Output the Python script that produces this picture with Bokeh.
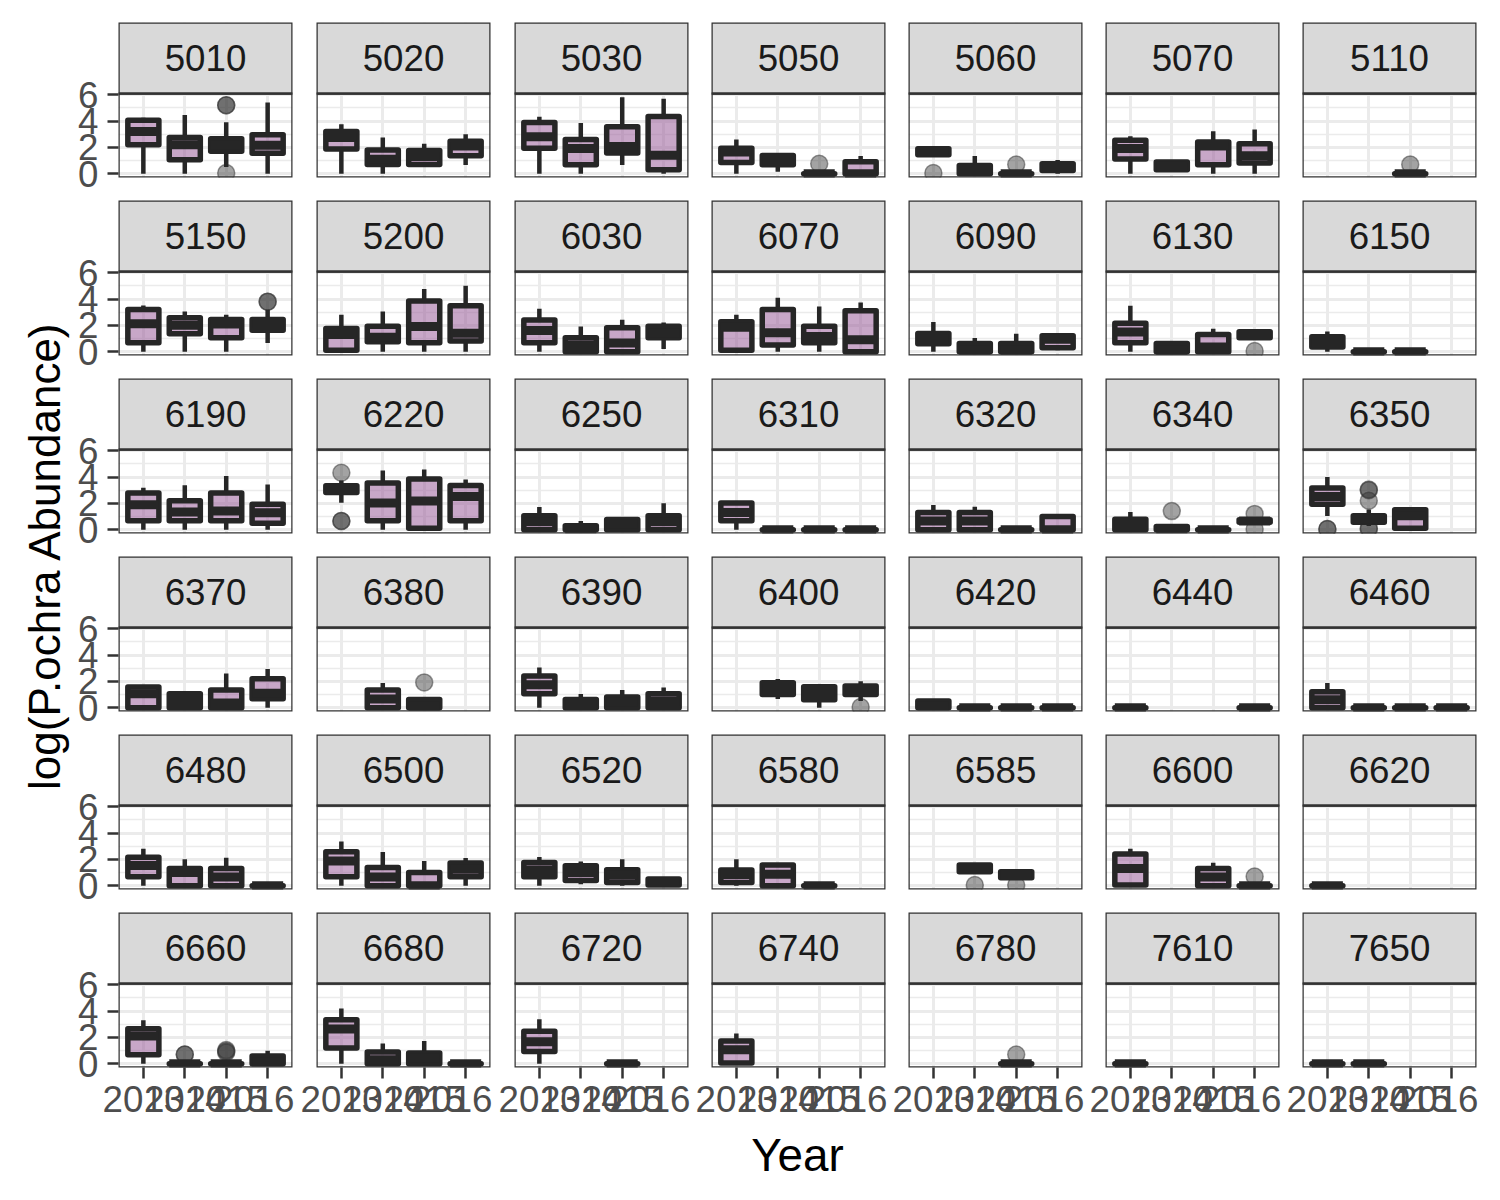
from math import pi
from bokeh.plotting import figure
from bokeh.models import (FactorRange, Range1d, FixedTicker, CategoricalTicker,
                          BoxAnnotation, Label, ColumnDataSource)
from bokeh.layouts import row, column
from bokeh.embed import file_html
from bokeh.resources import INLINE

N = None
years = ["2013", "2014", "2015", "2016"]
sites = ["5010", "5020", "5030", "5050", "5060", "5070", "5110",
         "5150", "5200", "6030", "6070", "6090", "6130", "6150",
         "6190", "6220", "6250", "6310", "6320", "6340", "6350",
         "6370", "6380", "6390", "6400", "6420", "6440", "6460",
         "6480", "6500", "6520", "6580", "6585", "6600", "6620",
         "6660", "6680", "6720", "6740", "6780", "7610", "7650"]

# box statistics per site, for 2013..2016 (None = no data that year)
lower_whisker = {
    "5010": [0, 0, 0.5, 0], "5020": [0, 0, 0.6, 0.65], "5030": [0, 0, 0.66, 0],
    "5050": [0, 0.15, 0, 0], "5060": [1.44, 0, 0, 0], "5070": [0, 0.15, 0, 0],
    "5110": [N, N, 0, N], "5150": [0, 0, 0, 0.66], "5200": [0, 0, 0, 0],
    "6030": [0, 0, 0, 0.2], "6070": [0, 0, 0, 0], "6090": [0, 0, 0, 0.1],
    "6130": [0, 0, 0, 1.0], "6150": [0, 0, 0, N], "6190": [0, 0, 0, 0],
    "6220": [2.05, 0, 0, 0], "6250": [0, 0, 0, 0], "6310": [0, 0, 0, 0],
    "6320": [0, 0, 0, 0], "6340": [0, 0, 0, 0.45], "6350": [1.04, 0.28, 0, N],
    "6370": [0, 0, 0, 0], "6380": [N, 0, 0, N], "6390": [0, 0, 0, 0],
    "6400": [N, 0.66, 0, 0.5], "6420": [0, 0, 0, 0], "6440": [0, N, N, 0],
    "6460": [0, 0, 0, 0], "6480": [0, 0, 0, 0], "6500": [0, 0, 0, 0],
    "6520": [0, 0.1, 0, 0.05], "6580": [0, 0, 0, N], "6585": [N, 1.06, 0.6, N],
    "6600": [0, N, 0, 0], "6620": [0, N, N, N], "6660": [0, 0, 0, 0],
    "6680": [0, 0, 0, 0], "6720": [0, N, 0, N], "6740": [0, N, N, N],
    "6780": [N, N, 0, N], "7610": [0, N, N, N], "7650": [0, 0, N, N],
}
q1 = {
    "5010": [2.2, 1.05, 1.7, 1.55], "5020": [1.87, 0.7, 0.7, 1.36], "5030": [1.94, 0.68, 1.57, 0.3],
    "5050": [0.85, 0.68, 0, 0], "5060": [1.44, 0, 0, 0.25], "5070": [1.11, 0.3, 0.68, 0.81],
    "5110": [N, N, 0, N], "5150": [0.68, 1.36, 1.06, 1.62], "5200": [0.1, 0.76, 0.68, 0.81],
    "6030": [0.68, 0, 0, 1.06], "6070": [0.1, 0.5, 0.68, 0], "6090": [0.6, 0, 0, 0.3],
    "6130": [0.68, 0, 0, 1.06], "6150": [0.35, 0, 0, N], "6190": [0.68, 0.68, 0.68, 0.48],
    "6220": [2.83, 0.68, 0.1, 0.68], "6250": [0, 0, 0, 0], "6310": [0.68, 0, 0, 0],
    "6320": [0, 0, 0, 0], "6340": [0, 0, 0, 0.56], "6350": [1.94, 0.56, 0.1, N],
    "6370": [0, 0, 0, 0.68], "6380": [N, 0, 0, N], "6390": [1.06, 0, 0, 0],
    "6400": [N, 1.01, 0.6, 1.01], "6420": [0, 0, 0, 0], "6440": [0, N, N, 0],
    "6460": [0, 0, 0, 0], "6480": [0.68, 0, 0, 0], "6500": [0.68, 0, 0, 0.68],
    "6520": [0.68, 0.4, 0.25, 0.05], "6580": [0.25, 0, 0, N], "6585": [N, 1.06, 0.6, N],
    "6600": [0.05, N, 0, 0], "6620": [0, N, N, N], "6660": [0.68, 0, 0, 0],
    "6680": [1.19, 0, 0, 0], "6720": [0.93, N, 0, N], "6740": [0.05, N, N, N],
    "6780": [N, N, 0, N], "7610": [0, N, N, N], "7650": [0, 0, N, N],
}
median = {
    "5010": [3.2, 2.2, 2.2, 2.15], "5020": [2.75, 1.1, 1.3, 2.1], "5030": [2.8, 1.92, 2.07, 1.4],
    "5050": [1.65, 1.0, 0, 0], "5060": [1.65, 0.25, 0, 0.5], "5070": [1.92, 0.6, 2.1, 1.36],
    "5110": [N, N, 0, N], "5150": [2.12, 2.0, 2.1, 2.1], "5200": [1.3, 1.1, 1.92, 1.4],
    "6030": [1.6, 0.5, 0.66, 1.4], "6070": [1.85, 1.44, 1.15, 0.9], "6090": [1.0, 0.1, 0.1, 0.95],
    "6130": [1.49, 0.1, 0.35, 1.3], "6150": [0.7, 0, 0, N], "6190": [1.9, 1.34, 1.41, 1.29],
    "6220": [3.05, 2.02, 2.17, 2.52], "6250": [0.6, 0.05, 0.45, 0.6], "6310": [1.3, 0, 0, 0],
    "6320": [0.66, 0.66, 0, 0], "6340": [0.5, 0.05, 0, 0.66], "6350": [2.52, 0.8, 1.06, N],
    "6370": [1.06, 0.55, 0.35, 1.1], "6380": [N, 0.66, 0.1, N], "6390": [1.75, 0.2, 0.45, 0.5],
    "6400": [N, 1.45, 1.15, 1.35], "6420": [0.15, 0, 0, 0], "6440": [0, N, N, 0],
    "6460": [0.6, 0, 0, 0], "6480": [1.54, 1.0, 0.66, 0], "6500": [1.87, 0.66, 0, 1.25],
    "6520": [1.2, 1.0, 0.8, 0.3], "6580": [0.85, 0.86, 0, N], "6585": [N, 1.3, 0.85, N],
    "6600": [1.31, N, 0.66, 0], "6620": [0, N, N, N], "6660": [2.1, 0, 0, 0.15],
    "6680": [2.63, 0.3, 0.45, 0], "6720": [1.67, N, 0, N], "6740": [1.06, N, N, N],
    "6780": [N, N, 0, N], "7610": [0, N, N, N], "7650": [0, 0, N, N],
}
q3 = {
    "5010": [4.05, 2.75, 2.65, 2.95], "5020": [3.2, 1.8, 1.77, 2.47], "5030": [3.89, 2.6, 3.56, 4.35],
    "5050": [1.94, 1.39, 0, 0.9], "5060": [1.89, 0.63, 0, 0.76], "5070": [2.53, 0.88, 2.4, 2.27],
    "5110": [N, N, 0, N], "5150": [3.2, 2.58, 2.45, 2.45], "5200": [1.77, 1.94, 3.84, 3.48],
    "6030": [2.4, 1.06, 1.82, 1.94], "6070": [2.27, 3.2, 1.94, 3.1], "6090": [1.39, 0.63, 0.63, 1.21],
    "6130": [2.15, 0.63, 1.31, 1.52], "6150": [1.14, 0, 0, N], "6190": [2.78, 2.2, 2.78, 1.94],
    "6220": [3.33, 3.54, 3.84, 3.36], "6250": [1.06, 0.3, 0.78, 1.06], "6310": [2.02, 0, 0, 0],
    "6320": [1.31, 1.31, 0, 1.01], "6340": [0.8, 0.25, 0, 0.76], "6350": [3.16, 1.06, 1.52, N],
    "6370": [1.57, 1.06, 1.34, 2.2], "6380": [N, 1.34, 0.63, N], "6390": [2.4, 0.63, 0.81, 1.06],
    "6400": [N, 1.89, 1.59, 1.64], "6420": [0.5, 0, 0, 0], "6440": [0, N, N, 0],
    "6460": [1.21, 0, 0, 0], "6480": [2.15, 1.31, 1.31, 0], "6500": [2.58, 1.39, 1.01, 1.72],
    "6520": [1.77, 1.52, 1.21, 0.5], "6580": [1.19, 1.57, 0, N], "6585": [N, 1.57, 1.06, N],
    "6600": [2.4, N, 1.31, 0], "6620": [0, N, N, N], "6660": [2.65, 0, 0, 0.58],
    "6680": [3.33, 0.88, 0.81, 0], "6720": [2.47, N, 0, N], "6740": [1.72, N, N, N],
    "6780": [N, N, 0, N], "7610": [0, N, N, N], "7650": [0, 0, N, N],
}
upper_whisker = {
    "5010": [4.25, 4.45, 3.9, 5.4], "5020": [3.75, 2.75, 2.27, 3.0], "5030": [4.32, 3.84, 5.8, 5.7],
    "5050": [2.6, 1.39, 0, 1.35], "5060": [1.89, 1.34, 0, 1.03], "5070": [2.85, 0.88, 3.23, 3.36],
    "5110": [N, N, 0, N], "5150": [3.5, 3.05, 2.8, 3.18], "5200": [2.8, 3.05, 4.77, 5.0],
    "6030": [3.26, 1.92, 2.42, 2.22], "6070": [2.8, 4.1, 3.43, 3.74], "6090": [2.25, 1.03, 1.36, 1.21],
    "6130": [3.48, 0.63, 1.74, 1.52], "6150": [1.54, 0, 0, N], "6190": [3.18, 3.38, 4.07, 3.43],
    "6220": [3.74, 4.5, 4.57, 3.81], "6250": [1.72, 0.66, 0.85, 2.0], "6310": [2.02, 0, 0, 0],
    "6320": [1.87, 1.74, 0, 1.01], "6340": [1.34, 0.25, 0, 0.9], "6350": [4.0, 1.54, 1.6, N],
    "6370": [1.57, 1.06, 2.6, 2.93], "6380": [N, 1.87, 0.63, N], "6390": [3.05, 1.03, 1.34, 1.54],
    "6400": [N, 2.17, 1.59, 2.0], "6420": [0.5, 0, 0, 0], "6440": [0, N, N, 0],
    "6460": [1.87, 0, 0, 0], "6480": [2.8, 2.0, 2.12, 0], "6500": [3.36, 2.55, 1.87, 2.1],
    "6520": [2.17, 1.84, 2.0, 0.5], "6580": [2.0, 1.57, 0, N], "6585": [N, 1.57, 1.06, N],
    "6600": [2.8, N, 1.74, 0], "6620": [0, N, N, N], "6660": [3.3, 0, 0, 0.98],
    "6680": [4.19, 1.54, 1.72, 0], "6720": [3.38, N, 0, N], "6740": [2.3, N, N, N],
    "6780": [N, N, 0, N], "7610": [0, N, N, N], "7650": [0, 0, N, N],
}

outlier_site = ["5010", "5010", "5010", "5050", "5060", "5060", "5110", "5150", "5150", "6130",
                "6220", "6220", "6220", "6340", "6340", "6340", "6350", "6350", "6350", "6350",
                "6350", "6350", "6350", "6380", "6400", "6585", "6585", "6600", "6660", "6660",
                "6660", "6660", "6660", "6780"]
outlier_year = ["2015", "2015", "2015", "2015", "2013", "2015", "2015", "2016", "2016", "2016",
                "2013", "2013", "2013", "2014", "2016", "2016", "2013", "2013", "2014", "2014",
                "2014", "2014", "2014", "2015", "2016", "2014", "2015", "2016", "2014", "2014",
                "2015", "2015", "2015", "2015"]
outlier_value = [5.2, 5.2, 0.05, 0.75, 0.05, 0.7, 0.7, 3.8, 3.8, 0.05,
                 4.32, 0.66, 0.66, 1.41, 1.2, 0.05, 0.05, 0.05, 3.0, 3.05,
                 2.2, 0.1, 0.05, 1.92, 0.05, 0.05, 0.05, 0.7, 0.7, 0.7,
                 1.03, 0.95, 0.85, 0.7]

# ---------------- styling / layout ----------------
FONT = "Liberation Sans"
DARK = "#262626"
PINK = "#9b5f9b"
GRID = "#ebebeb"
BORDER = "#333333"
TICK_FS = "36.7px"
TITLE_FS = "45.8px"

Y_LO, Y_PANEL_HI = -0.29, 6.09
PANEL_H, STRIP_H, PANEL_W = 84, 71, 174
Y_TOP = Y_PANEL_HI + STRIP_H * (Y_PANEL_HI - Y_LO) / PANEL_H
NCOL, NROW = 7, 6
LEFT_GAP = [48, 22, 22, 21, 21, 21, 21]
RIGHT_GAP = 2
TOP_GAP = [22, 4, 4, 4, 4, 4]
BOTTOM_GAP = [19, 19, 19, 19, 19, 60]
YTITLE_W = 70


def style_axis(ax):
    ax.axis_line_color = None
    ax.major_tick_out = 11
    ax.major_tick_in = 0
    ax.minor_tick_out = 0
    ax.minor_tick_in = 0
    ax.major_tick_line_color = BORDER
    ax.major_tick_line_width = 2.5
    ax.major_label_text_font = FONT
    ax.major_label_text_font_size = TICK_FS
    ax.major_label_text_color = "#4d4d4d"


def make_panel(site, r, c):
    last_row = (r == NROW - 1)
    p = figure(x_range=FactorRange(factors=years, range_padding=0.1, range_padding_units="absolute"),
               y_range=Range1d(Y_LO, Y_TOP),
               frame_width=PANEL_W, frame_height=PANEL_H + STRIP_H,
               min_border_left=LEFT_GAP[c], min_border_right=RIGHT_GAP,
               min_border_top=TOP_GAP[r], min_border_bottom=BOTTOM_GAP[r],
               x_axis_location="below" if last_row else None,
               y_axis_location="left" if c == 0 else None,
               toolbar_location=None, tools="", output_backend="svg",
               background_fill_color="white", border_fill_color="white")
    p.outline_line_color = None

    p.xgrid.ticker = CategoricalTicker()
    p.xgrid.grid_line_color = GRID
    p.xgrid.grid_line_width = 3
    p.ygrid.ticker = FixedTicker(ticks=[0, 2, 4, 6], minor_ticks=[1, 3, 5])
    p.ygrid.grid_line_color = GRID
    p.ygrid.grid_line_width = 3
    p.ygrid.minor_grid_line_color = GRID
    p.ygrid.minor_grid_line_width = 1.5

    if c == 0:
        ax = p.yaxis[0]
        ax.ticker = FixedTicker(ticks=[0, 2, 4, 6])
        style_axis(ax)
        ax.major_label_standoff = 9
    if last_row:
        ax = p.xaxis[0]
        style_axis(ax)
        ax.major_label_standoff = 7

    # box statistics
    d = dict(year=[], lw=[], q1=[], med=[], q3=[], uw=[])
    for i, yr in enumerate(years):
        if q1[site][i] is None:
            continue
        d["year"].append(yr)
        d["lw"].append(lower_whisker[site][i])
        d["q1"].append(q1[site][i])
        d["med"].append(median[site][i])
        d["q3"].append(q3[site][i])
        d["uw"].append(upper_whisker[site][i])
    src = ColumnDataSource(d)
    o = dict(year=[], val=[])
    for s, yr, v in zip(outlier_site, outlier_year, outlier_value):
        if s == site:
            o["year"].append(yr)
            o["val"].append(v)
    osrc = ColumnDataSource(o)

    p.scatter("year", "val", source=osrc, size=17, fill_color="#333333", fill_alpha=0.45,
              line_color="#333333", line_alpha=0.5, line_width=1.5)
    p.segment(x0="year", y0="q3", x1="year", y1="uw", source=src,
              line_color=DARK, line_width=4.5)
    p.segment(x0="year", y0="q1", x1="year", y1="lw", source=src,
              line_color=DARK, line_width=4.5)
    p.vbar(x="year", width=0.75, bottom="q1", top="q3", source=src,
           fill_color=PINK, fill_alpha=0.55, line_color=DARK, line_width=5.5,
           line_join="round")
    p.rect(x="year", y="med", width=0.75, height=9, height_units="screen", source=src,
           fill_color=DARK, line_color=None)

    # panel border (drawn above the grid) and facet strip
    p.add_layout(BoxAnnotation(bottom=Y_LO, top=Y_PANEL_HI, fill_alpha=0.0,
                               line_color=BORDER, line_alpha=1.0, line_width=2.5))
    p.add_layout(BoxAnnotation(bottom=Y_PANEL_HI, top=Y_TOP, fill_color="#d9d9d9", fill_alpha=1.0,
                               line_color=BORDER, line_alpha=1.0, line_width=2.5))
    p.add_layout(Label(x=2.0, y=(Y_PANEL_HI + Y_TOP) / 2, text=site, text_align="center",
                       text_baseline="middle", text_font=FONT, text_font_size=TICK_FS,
                       text_color="#1a1a1a"))
    return p


rows = []
for r in range(NROW):
    figs = [make_panel(sites[r * NCOL + c], r, c) for c in range(NCOL)]
    rows.append(row(*figs))

grid_h = sum(TOP_GAP) + sum(BOTTOM_GAP) + NROW * (PANEL_H + STRIP_H)
year_h = 1200 - grid_h
year_w = 1500 - YTITLE_W
year_fig = figure(width=year_w, height=year_h, x_range=Range1d(0, year_w), y_range=Range1d(0, year_h),
                  min_border=0, x_axis_location=None, y_axis_location=None, toolbar_location=None,
                  tools="", output_backend="svg", outline_line_color=None)
year_fig.grid.visible = False
year_fig.add_layout(Label(x=(118 + 1476) / 2 - YTITLE_W, y=year_h - (1155 - grid_h), text="Year",
                          text_align="center", text_baseline="middle", text_font=FONT,
                          text_font_size=TITLE_FS, text_color="black"))

ytitle = figure(width=YTITLE_W, height=1200, x_range=Range1d(0, YTITLE_W), y_range=Range1d(0, 1200),
                min_border=0, x_axis_location=None, y_axis_location=None, toolbar_location=None,
                tools="", output_backend="svg", outline_line_color=None)
ytitle.grid.visible = False
ytitle.add_layout(Label(x=44, y=1200 - 555, text="log(P.ochra Abundance)", angle=pi / 2,
                        text_align="center", text_baseline="middle", text_font=FONT,
                        text_font_size="44px", text_color="black"))

page = row(ytitle, column(*rows, year_fig))
open("out.html", "w").write(file_html(page, INLINE))
